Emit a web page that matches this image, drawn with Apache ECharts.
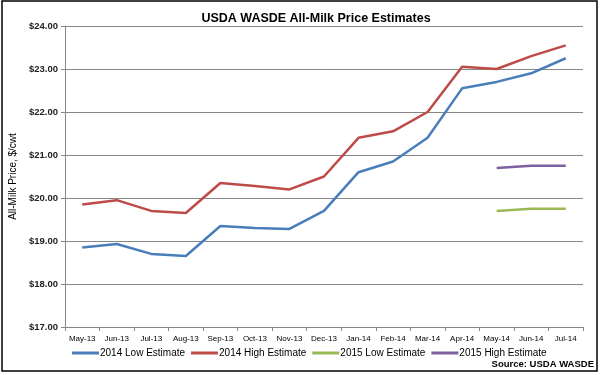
<!DOCTYPE html>
<html>
<head>
<meta charset="utf-8">
<script src="https://cdn.jsdelivr.net/npm/echarts@6/dist/echarts.min.js"></script>
<style>
  html, body { margin: 0; padding: 0; background: #fff; }
  #chart { width: 600px; height: 375px; }
</style>
</head>
<body>
<div id="chart"></div>
<script>
  // categories and series values
  const months = ['May-13', 'Jun-13', 'Jul-13', 'Aug-13', 'Sep-13', 'Oct-13', 'Nov-13', 'Dec-13',
    'Jan-14', 'Feb-14', 'Mar-14', 'Apr-14', 'May-14', 'Jun-14', 'Jul-14']
  const low2014 = [18.85, 18.93, 18.70, 18.65, 19.35, 19.30, 19.28, 19.70, 20.60, 20.85, 21.40, 22.55, 22.70, 22.90, 23.25]
  const high2014 = [19.85, 19.95, 19.70, 19.65, 20.35, 20.28, 20.20, 20.50, 21.40, 21.55, 22.00, 23.05, 23.00, 23.30, 23.55]
  const low2015 = [null, null, null, null, null, null, null, null, null, null, null, null, 19.70, 19.75, 19.75]
  const high2015 = [null, null, null, null, null, null, null, null, null, null, null, null, 20.70, 20.75, 20.75]
  const seriesNames = ['2014 Low Estimate', '2014 High Estimate', '2015 Low Estimate', '2015 High Estimate']
  const colors = ['#4a7ebb', '#be4b48', '#98b954', '#7d60a0']

  const myChart = echarts.init(document.getElementById('chart'))
  const font = 'Liberation Sans'

  function lineSeries(name, data, color) {
    return {
      name: name,
      type: 'line',
      data: data,
      symbol: 'none',
      connectNulls: false,
      lineStyle: { width: 2.5, color: color },
      itemStyle: { color: color }
    }
  }

  const option = {
    animation: false,
    backgroundColor: '#fff',
    title: {
      text: 'USDA WASDE All-Milk Price Estimates',
      left: 311,
      textAlign: 'center',
      top: 7,
      textStyle: { fontFamily: font, fontSize: 12.5, fontWeight: 'bold', color: '#000' }
    },
    grid: { left: 57, right: 17, top: 26, bottom: 48 },
    legend: {
      data: seriesNames,
      left: 72,
      top: 348,
      padding: 0,
      icon: 'rect',
      itemWidth: 27,
      itemHeight: 3,
      itemGap: 6,
      textStyle: { fontFamily: font, fontSize: 10, color: '#000', padding: [0, 0, 0, -4] }
    },
    xAxis: {
      type: 'category',
      data: months,
      boundaryGap: true,
      axisLine: { lineStyle: { color: '#868686' } },
      axisTick: { show: true, length: 4, interval: 0, lineStyle: { color: '#868686' } },
      axisLabel: { interval: 0, fontFamily: font, fontSize: 8, color: '#000', margin: 8 }
    },
    yAxis: {
      type: 'value',
      min: 17,
      max: 24,
      interval: 1,
      name: 'All-Milk Price, $/cwt',
      nameLocation: 'middle',
      nameGap: 40,
      nameTextStyle: { fontFamily: font, fontSize: 10, color: '#000' },
      axisLine: { show: true, lineStyle: { color: '#868686' } },
      axisTick: { show: true, length: 4, lineStyle: { color: '#868686' } },
      axisLabel: {
        fontFamily: font, fontSize: 9.5, fontWeight: 'bold', color: '#222', margin: 7,
        formatter: v => '$' + v.toFixed(2)
      },
      splitLine: { lineStyle: { color: '#868686', width: 1 } }
    },
    graphic: [
      {
        type: 'text',
        right: 6,
        top: 359,
        style: { text: 'Source: USDA WASDE', font: 'bold 9.5px "Liberation Sans"', fill: '#000' }
      },
      {
        type: 'rect',
        shape: { x: 2, y: 1, width: 595, height: 370 },
        style: { fill: 'none', stroke: '#000', lineWidth: 1.5 },
        silent: true
      }
    ],
    series: [
      lineSeries(seriesNames[0], low2014, colors[0]),
      lineSeries(seriesNames[1], high2014, colors[1]),
      lineSeries(seriesNames[2], low2015, colors[2]),
      lineSeries(seriesNames[3], high2015, colors[3])
    ]
  }

  option && myChart.setOption(option)
</script>
</body>
</html>
